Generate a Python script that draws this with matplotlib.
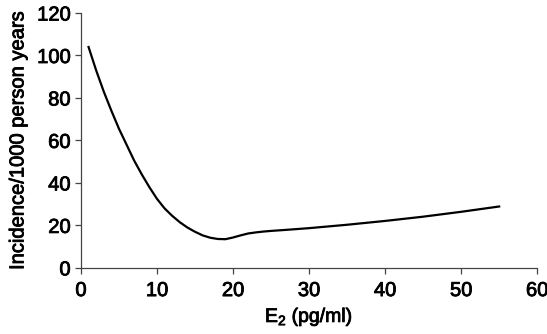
import matplotlib
matplotlib.use("Agg")
import matplotlib.pyplot as plt
import matplotlib.patheffects as pe

e2 = [1, 2, 3, 4, 5, 6, 7, 8, 9, 10, 11, 12, 13, 14, 15, 16, 17, 18, 19, 20,
      21, 22, 23, 24, 25, 27, 30, 35, 40, 45, 50, 55]
incidence = [104, 93, 83, 74, 65.5, 58, 50.5, 44, 38, 32.5, 28, 24.5, 21.5, 19,
             17, 15.3, 14.2, 13.6, 13.5, 14.3, 15.3, 16.2, 16.7, 17.1, 17.4,
             17.9, 18.7, 20.3, 22.1, 24.1, 26.4, 28.9]
xticks = [0, 10, 20, 30, 40, 50, 60]
yticks = [0, 20, 40, 60, 80, 100, 120]

plt.rcParams['font.family'] = ['Liberation Sans', 'DejaVu Sans']
plt.rcParams['mathtext.fontset'] = 'custom'
plt.rcParams['mathtext.rm'] = 'Liberation Sans'

heavy = [pe.withStroke(linewidth=0.6, foreground='black')]

fig = plt.figure(figsize=(5.47, 3.34), dpi=100)
ax = fig.add_axes([0.148, 0.198, 0.834, 0.763])
ax.plot(e2, incidence, color='black', lw=1.6)
ax.set_xlim(0, 60)
ax.set_ylim(0, 120)
ax.set_xticks(xticks)
ax.set_yticks(yticks)
for s in ['top', 'right']:
    ax.spines[s].set_visible(False)
for s in ['left', 'bottom']:
    ax.spines[s].set_color('#444444')
    ax.spines[s].set_linewidth(0.9)
ax.tick_params(direction='out', length=4.5, width=0.9, color='#444444',
               labelsize=14.5)
ax.tick_params(axis='x', pad=5)
ax.tick_params(axis='y', pad=3)
for lab in ax.get_xticklabels() + ax.get_yticklabels():
    lab.set_path_effects(heavy)
xl = ax.set_xlabel('E$_\\mathregular{2}$ (pg/ml)', fontsize=14, labelpad=5)
yl = ax.set_ylabel('Incidence/1000 person years', fontsize=14.5, labelpad=7)
xl.set_path_effects(heavy)
yl.set_path_effects(heavy)
fig.savefig('out.png', dpi=100)
